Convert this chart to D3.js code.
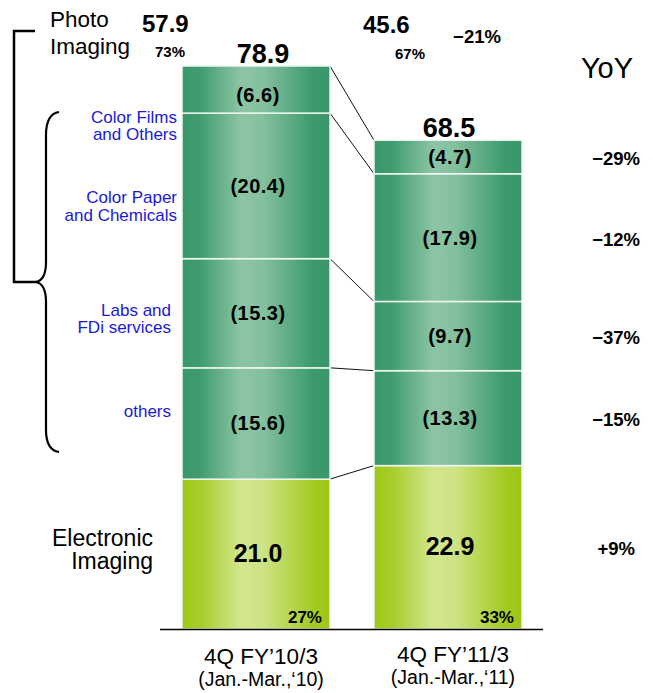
<!DOCTYPE html>
<html><head><meta charset="utf-8">
<script src="https://cdn.jsdelivr.net/npm/d3@7"></script>
<style>
body{margin:0;background:#fff;}
text{font-family:"Liberation Sans",Arial,sans-serif;}
</style></head>
<body><svg id="c" width="653" height="693"></svg>
<script>
// ---- data ----
const periods = ["4Q FY\u201910/3", "4Q FY\u201911/3"];
const periodSub = ["(Jan.-Mar.,\u201810)", "(Jan.-Mar.,\u201811)"];
const segments = ["Electronic Imaging", "others", "Labs and FDi services", "Color Paper and Chemicals", "Color Films and Others"];
const values10 = [21.0, 15.6, 15.3, 20.4, 6.6];
const values11 = [22.9, 13.3, 9.7, 17.9, 4.7];
const totals = [78.9, 68.5];
const photoTotals = [57.9, 45.6];
const photoShare = ["73%", "67%"];
const eiShare = ["27%", "33%"];
const yoy = ["+9%", "\u221215%", "\u221237%", "\u221212%", "\u221229%"];
const photoYoY = "\u221221%";

// ---- layout ----
const svg = d3.select("#c");
const x = d3.scaleBand().domain(periods).range([160, 544]).paddingInner(0.2292).paddingOuter(0.1146);
const y = d3.scaleLinear().domain([0, 78.9]).range([629, 66]);
const series = [values10, values11];

const defs = svg.append("defs");
function grad(id, stops){
  const g = defs.append("linearGradient").attr("id", id).attr("x1","0%").attr("x2","100%").attr("y1","0%").attr("y2","0%");
  stops.forEach(s => g.append("stop").attr("offset", s[0]).attr("stop-color", s[1]));
}
grad("gGreen", [["0%","#39986a"],["12%","#409c6f"],["40%","#8cc5a5"],["55%","#83c09e"],["88%","#3d9a6c"],["100%","#389769"]]);
grad("gYellow", [["0%","#9cc814"],["12%","#a6cd2c"],["40%","#d3e68c"],["55%","#cee384"],["88%","#a3cb24"],["100%","#9bc714"]]);

// stacked positions
const stacks = series.map(vals => {
  let c = 0;
  return vals.map(v => { const s = {y0: c, y1: c + v, v}; c += v; return s; });
});

// connector lines
const x1r = x(periods[0]) + x.bandwidth();
const x2l = x(periods[1]);
for (let i = 0; i < segments.length; i++) {
  svg.append("line")
    .attr("x1", x1r).attr("y1", y(stacks[0][i].y1))
    .attr("x2", x2l).attr("y2", y(stacks[1][i].y1))
    .attr("stroke", "#111").attr("stroke-width", 1);
}

// bars
periods.forEach((p, pi) => {
  const g = svg.append("g");
  g.selectAll("rect").data(stacks[pi]).join("rect")
    .attr("x", x(p)).attr("width", x.bandwidth())
    .attr("y", d => y(d.y1)).attr("height", d => y(d.y0) - y(d.y1))
    .attr("fill", (d, i) => i === 0 ? "url(#gYellow)" : "url(#gGreen)")
    .attr("stroke", "#eef5f0").attr("stroke-width", 1.5);
  const cx = x(p) + x.bandwidth() / 2;
  g.selectAll("text.seg").data(stacks[pi]).join("text").attr("class", "seg")
    .attr("x", (d, i) => cx + 2)
    .attr("y", (d, i) => (y(d.y0) + y(d.y1)) / 2 + (i === 0 ? 8 : (i === 4 && pi === 0 ? 12 : 7)))
    .attr("text-anchor", "middle")
    .attr("font-weight", "bold")
    .attr("font-size", (d, i) => i === 0 ? 25 : 20)
    .attr("letter-spacing", (d, i) => i === 0 ? 0 : 0.5)
    .attr("fill", "#000")
    .text((d, i) => i === 0 ? d.v.toFixed(1) : "(" + d.v.toFixed(1) + ")");
  // totals
  svg.append("text").attr("x", cx + (pi === 0 ? 7 : 1)).attr("y", y(totals[pi]) - 3)
    .attr("text-anchor", "middle").attr("font-weight", "bold").attr("font-size", 27).text(totals[pi].toFixed(1));
  // EI share
  svg.append("text").attr("x", x(p) + x.bandwidth() - 8).attr("y", 623)
    .attr("text-anchor", "end").attr("font-weight", "bold").attr("font-size", 17).text(eiShare[pi]);
  // x labels
  svg.append("text").attr("x", cx + 5).attr("y", pi === 0 ? 664 : 662)
    .attr("text-anchor", "middle").attr("font-size", 22.5).text(p);
  svg.append("text").attr("x", cx + 5).attr("y", pi === 0 ? 686 : 684)
    .attr("text-anchor", "middle").attr("font-size", 19.5).text(periodSub[pi]);
});

// baseline
svg.append("line").attr("x1", 160).attr("x2", 543).attr("y1", 629.5).attr("y2", 629.5)
  .attr("stroke", "#000").attr("stroke-width", 1.5);

// YoY column
svg.append("text").attr("x", 607).attr("y", 78).attr("text-anchor", "middle")
  .attr("font-size", 29).text("YoY");
svg.selectAll("text.yoy").data(stacks[1]).join("text").attr("class", "yoy")
  .attr("x", (d, i) => i === 0 ? 635 : 640)
  .attr("y", d => (y(d.y0) + y(d.y1)) / 2 + 8)
  .attr("text-anchor", "end").attr("font-weight", "bold").attr("font-size", 18.5)
  .text((d, i) => yoy[i]);

// Photo imaging header
svg.append("text").attr("x", 50).attr("y", 27).attr("font-size", 22.5).text("Photo");
svg.append("text").attr("x", 50).attr("y", 54).attr("font-size", 22.5).text("Imaging");
svg.append("text").attr("x", 142).attr("y", 32).attr("font-weight", "bold").attr("font-size", 24).text(photoTotals[0].toFixed(1));
svg.append("text").attr("x", 155).attr("y", 57).attr("font-weight", "bold").attr("font-size", 15).text(photoShare[0]);
svg.append("text").attr("x", 363).attr("y", 33).attr("font-weight", "bold").attr("font-size", 24).text(photoTotals[1].toFixed(1));
svg.append("text").attr("x", 395).attr("y", 59).attr("font-weight", "bold").attr("font-size", 15).text(photoShare[1]);
svg.append("text").attr("x", 477).attr("y", 43).attr("text-anchor", "middle").attr("font-weight", "bold").attr("font-size", 18.5).text(photoYoY);

// Electronic Imaging label
svg.append("text").attr("x", 153).attr("y", 546).attr("text-anchor", "end").attr("font-size", 23).text("Electronic");
svg.append("text").attr("x", 153).attr("y", 569).attr("text-anchor", "end").attr("font-size", 23).text("Imaging");

// blue sub-category labels
const blue = "#1a1ad6";
const subLabels = [
  {lines: ["Color Films", "and Others"], x: 177, y: [123, 140]},
  {lines: ["Color Paper", "and Chemicals"], x: 177, y: [203, 221]},
  {lines: ["Labs and", "FDi services"], x: 171, y: [316, 333]},
  {lines: ["others"], x: 171, y: [417]}
];
subLabels.forEach(s => s.lines.forEach((t, i) => {
  svg.append("text").attr("x", s.x).attr("y", s.y[i]).attr("text-anchor", "end")
    .attr("font-size", 17).attr("fill", blue).text(t);
}));

// square bracket
svg.append("path").attr("d", "M35,31 H14 V282 H37")
  .attr("fill", "none").attr("stroke", "#000").attr("stroke-width", 2.5);
// curly brace
svg.append("path").attr("d", "M59,112 Q46,114 46,135 V262 Q46,280 36,282 Q46,284 46,302 V430 Q46,450 59,452")
  .attr("fill", "none").attr("stroke", "#000").attr("stroke-width", 2.2);
</script></body></html>
